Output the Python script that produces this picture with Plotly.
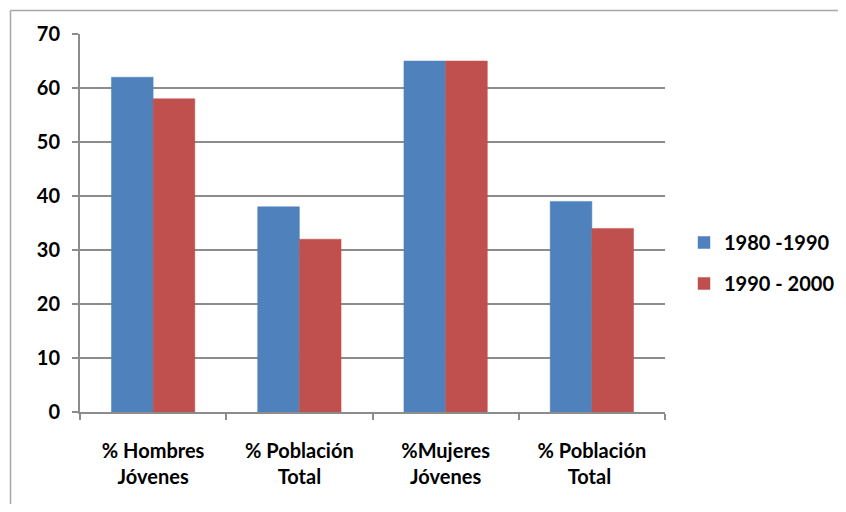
import plotly.graph_objects as go

categories = ["% Hombres<br>Jóvenes", "% Población<br>Total", "%Mujeres<br>Jóvenes", "% Población<br>Total "]
series_names = ["1980 -1990", "1990 - 2000"]
values_1980 = [62, 38, 65, 39]
values_1990 = [58, 32, 65, 34]
colors = ["#4F81BD", "#C0504D"]

# page body has an 8px margin; keep the figure inside the window
OFF = 8
W, H = 846 - 2 * OFF, 512 - 2 * OFF
L, T = 80 - OFF, 34 - OFF
pw, ph = 585, 378
R = W - L - pw
B = H - T - ph

def px_to_paper_x(x):
    return (x - OFF - L) / pw

def px_to_paper_y(y):
    return (T + ph - (y - OFF)) / ph

fig = go.Figure()
for name, vals, col in zip(series_names, [values_1980, values_1990], colors):
    fig.add_trace(go.Bar(
        x=categories, y=vals, name=name, legendgroup=name,
        marker=dict(color=col, line=dict(color=col, width=0.5)),
    ))

font_family = "Lato, 'Open Sans', sans-serif"
grid_col = "#8c8c8c"
fs = 20

fig.update_layout(
    width=W, height=H,
    margin=dict(l=L, r=R, t=T, b=B, autoexpand=False),
    plot_bgcolor="white", paper_bgcolor="white",
    barmode="group", bargap=0.43, bargroupgap=0,
    font=dict(family=font_family, size=fs, color="black"),
    showlegend=True,
    legend=dict(
        x=px_to_paper_x(684), y=px_to_paper_y(263), xanchor="left", yanchor="middle",
        font=dict(family=font_family, size=fs, color="black", weight="bold"),
        traceorder="grouped", tracegroupgap=12, bgcolor="rgba(0,0,0,0)",
    ),
    xaxis=dict(
        type="category", showgrid=False, showline=True, linecolor=grid_col, linewidth=2,
        ticks="outside", tickson="boundaries", ticklen=6, tickcolor=grid_col, tickwidth=2,
        tickfont=dict(family=font_family, size=fs, color="black", weight="bold"),
        ticklabelstandoff=20,
    ),
    yaxis=dict(
        range=[0, 70], dtick=10, showgrid=True, gridcolor=grid_col, gridwidth=2,
        showline=True, linecolor=grid_col, linewidth=2, zeroline=False,
        ticks="outside", ticklen=6, tickcolor=grid_col, tickwidth=2,
        tickfont=dict(family=font_family, size=fs, color="black", weight="bold"),
        ticklabelstandoff=8,
    ),
    shapes=[
        dict(type="line", xref="paper", yref="paper",
             x0=px_to_paper_x(10.5), x1=px_to_paper_x(900),
             y0=px_to_paper_y(10.5), y1=px_to_paper_y(10.5),
             line=dict(color="#a6a6a6", width=1.5), layer="below"),
        dict(type="line", xref="paper", yref="paper",
             x0=px_to_paper_x(10.5), x1=px_to_paper_x(10.5),
             y0=px_to_paper_y(10.5), y1=px_to_paper_y(600),
             line=dict(color="#a6a6a6", width=1.5), layer="below"),
    ],
)

fig.write_html("out.html")
